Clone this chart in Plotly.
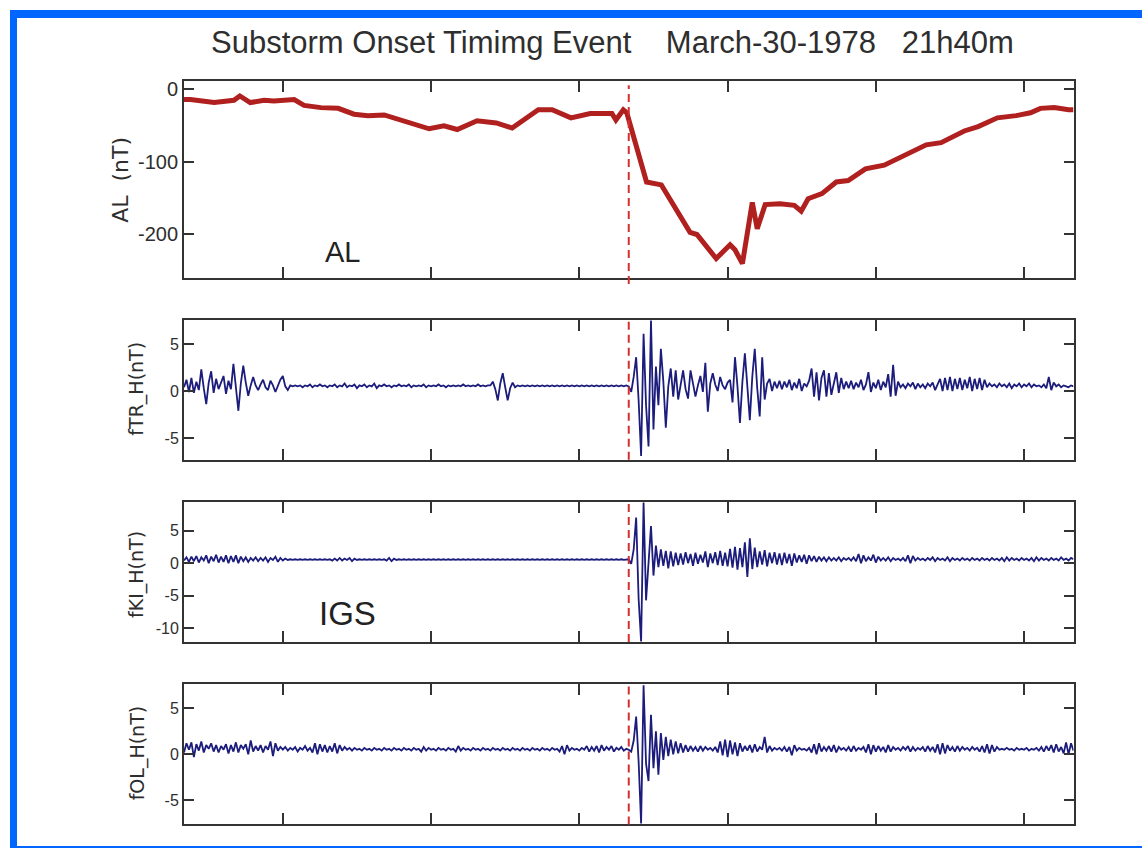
import plotly.graph_objects as go

W, H = 1142, 848

# ---------------------------------------------------------------------------
# Data
# ---------------------------------------------------------------------------
# Time is given in minutes of UT (1210 = 20:10 UT, 1390 = 23:10 UT)
onset_min = 1300          # 21:40 UT
tick_minutes = [1230, 1260, 1290, 1320, 1350, 1380]

# AL index (nT)
al_time = [1210.0, 1211.3, 1216.1, 1220.1, 1221.3, 1223.4, 1226.2, 1228.2, 1232.3, 1234.3,
           1237.7, 1241.2, 1244.4, 1247.2, 1250.5, 1253.9, 1259.6, 1262.6, 1265.3, 1269.3,
           1273.2, 1276.4, 1281.7, 1284.5, 1288.3, 1292.2, 1296.6, 1297.4, 1298.9, 1299.6,
           1303.6, 1306.6, 1312.4, 1313.8, 1317.7, 1320.5, 1321.5, 1323.0, 1325.0, 1326.0,
           1327.6, 1330.6, 1333.5, 1334.9, 1336.3, 1339.1, 1342.0, 1344.4, 1347.9, 1351.7,
           1355.5, 1360.2, 1363.2, 1367.9, 1370.7, 1374.6, 1378.4, 1381.3, 1383.3, 1386.1,
           1389.0, 1390.0]
al_nt = [-15, -15, -19, -16, -10, -19, -16, -17, -15, -23,
         -26, -27, -35, -37, -36, -43, -55, -51, -56, -44,
         -47, -54, -29, -29, -40, -34, -34, -43, -29, -33,
         -128, -132, -197, -200, -233, -214, -221, -240, -156, -192,
         -159, -158, -160, -168, -151, -144, -128, -126, -110, -105,
         -92, -77, -74, -58, -52, -40, -37, -33, -27, -26,
         -29, -29]

# Band-pass filtered H components (nT), 30 s cadence starting at 20:10 UT
t_start, t_step = 1210.0, 0.5

ftr_h = [
    0.4, 1.2, -0.1, 1.4, -0.2, 1.0, 0.1, 2.3, 0.3, -1.4, 0.9, 2.1, -0.2, 1.3, 0.2, 1.0, 1.6, -0.3, 1.1, 0.2,
    2.9, 0.4, -2.1, 0.8, 2.7, 0.9, -0.5, 0.6, 1.5, 0.6, 0.1, 0.7, 1.2, 0.4, 0.1, 1.1, 0.6, -0.1, 0.5, 1.2,
    1.6, 0.5, 0.1, 0.6, 0.5, 0.6, 0.5, 0.6, 0.4, 0.6, 0.5, 0.7, 0.4, 0.6, 0.5, 0.7, 0.5, 0.6, 0.4, 0.6,
    0.5, 0.7, 0.4, 0.6, 0.5, 0.8, 0.4, 0.6, 0.5, 0.7, 0.3, 0.6, 0.5, 0.7, 0.4, 0.6, 0.5, 0.8, 0.3, 0.6,
    0.5, 0.7, 0.5, 0.6, 0.4, 0.6, 0.5, 0.7, 0.5, 0.6, 0.5, 0.7, 0.4, 0.6, 0.5, 0.6, 0.5, 0.7, 0.4, 0.6,
    0.5, 0.6, 0.5, 0.7, 0.5, 0.6, 0.4, 0.6, 0.5, 0.6, 0.5, 0.6, 0.5, 0.7, 0.5, 0.6, 0.5, 0.6, 0.5, 0.7,
    0.5, 0.6, 0.5, 0.6, 0.6, 1.0, 0.2, -1.0, 0.8, 1.9, 0.4, -1.0, 0.3, 0.9, 0.4, 0.6, 0.5, 0.6, 0.5, 0.6,
    0.5, 0.6, 0.5, 0.6, 0.5, 0.6, 0.5, 0.6, 0.5, 0.6, 0.5, 0.6, 0.5, 0.6, 0.5, 0.6, 0.5, 0.6, 0.5, 0.6,
    0.5, 0.6, 0.5, 0.6, 0.5, 0.6, 0.5, 0.6, 0.5, 0.6, 0.5, 0.6, 0.5, 0.6, 0.5, 0.6, 0.5, 0.6, 0.5, 0.6,
    0.5, -0.1, 1.5, 3.6, -1.0, -6.9, 6.1, -1.5, -5.9, 7.5, -4.1, 2.6, -1.5, 4.5, 1.0, -3.9, 0.5, 2.4, -0.6, 2.2,
    -0.9, 0.8, 2.2, 0.2, -0.8, 2.2, 0.8, -0.6, 0.6, 1.6, -0.1, 3.0, -2.2, 0.8, 1.9, 0.7, 0.0, 1.5, 0.6, 0.2,
    0.9, 1.2, -1.2, 3.6, 0.5, -3.4, 1.0, 4.0, 0.5, -3.1, 1.5, 4.5, 0.3, -2.7, 3.6, -0.9, 0.8, 1.3, 0.0, 1.0,
    0.3, 1.1, 0.2, 1.0, 0.4, 1.2, 0.1, 0.9, 0.3, 1.3, 0.0, 0.8, 0.5, 1.1, 2.4, -0.6, 2.0, -1.0, 1.4, 2.2,
    -0.6, 1.9, -0.4, 0.8, 2.0, -0.2, 1.4, 0.2, 1.0, 0.3, 1.1, 0.2, 0.9, 0.4, 1.2, 0.1, 0.7, 2.0, -0.1, 0.9,
    0.3, 1.2, 0.1, 1.0, 0.4, 1.8, -0.6, 2.8, -0.5, 1.0, 0.4, 0.7, 0.3, 0.8, 0.5, 0.9, 0.2, 0.8, 0.4, 0.7,
    0.3, 0.8, 0.5, 0.9, 0.1, 0.7, 1.3, 0.0, 1.4, 0.1, 1.5, 0.0, 1.3, 0.2, 1.4, 0.1, 1.2, 0.3, 1.5, 0.0,
    1.3, 0.2, 1.4, 0.1, 1.2, 0.4, 0.8, 0.5, 0.7, 0.4, 0.8, 0.5, 0.7, 0.4, 0.8, 0.3, 0.7, 0.5, 0.8, 0.4,
    0.7, 0.5, 0.8, 0.4, 0.7, 0.5, 0.6, 0.4, 0.7, 0.3, 1.5, 0.1, 0.9, 0.5, 0.7, 0.4, 0.6, 0.5, 0.4, 0.6,
    0.5,
]

fki_h = [
    0.4, 0.9, 0.2, 1.0, 0.3, 1.1, 0.1, 0.9, 0.4, 1.2, 0.0, 1.0, 0.3, 1.3, 0.1, 1.0, 0.2, 1.2, 0.0, 1.1,
    0.2, 1.2, 0.0, 1.0, 0.3, 0.9, 0.2, 0.8, 0.4, 0.9, 0.3, 0.8, 0.4, 0.9, 0.2, 0.8, 0.5, 1.0, 0.2, 0.8,
    0.4, 0.7, 0.5, 0.6, 0.5, 0.6, 0.5, 0.6, 0.5, 0.6, 0.5, 0.6, 0.5, 0.6, 0.5, 0.6, 0.5, 0.6, 0.5, 0.6,
    0.4, 0.7, 0.4, 0.8, 0.4, 0.7, 0.5, 0.8, 0.3, 0.7, 0.5, 0.6, 0.5, 0.6, 0.5, 0.6, 0.5, 0.6, 0.5, 0.6,
    0.5, 0.6, 0.4, 0.8, 0.3, 0.7, 0.5, 0.6, 0.5, 0.6, 0.5, 0.6, 0.5, 0.6, 0.5, 0.6, 0.5, 0.6, 0.5, 0.6,
    0.5, 0.6, 0.5, 0.6, 0.5, 0.6, 0.5, 0.6, 0.5, 0.6, 0.5, 0.6, 0.5, 0.6, 0.5, 0.6, 0.5, 0.6, 0.5, 0.6,
    0.5, 0.6, 0.5, 0.6, 0.5, 0.6, 0.5, 0.6, 0.5, 0.6, 0.5, 0.6, 0.5, 0.6, 0.5, 0.6, 0.5, 0.6, 0.5, 0.6,
    0.5, 0.6, 0.5, 0.6, 0.5, 0.6, 0.5, 0.6, 0.5, 0.6, 0.5, 0.6, 0.5, 0.6, 0.5, 0.6, 0.5, 0.6, 0.5, 0.6,
    0.5, 0.6, 0.5, 0.6, 0.5, 0.6, 0.5, 0.6, 0.5, 0.6, 0.5, 0.6, 0.5, 0.6, 0.5, 0.6, 0.5, 0.6, 0.5, 0.6,
    0.6, -0.1, 2.1, 7.0, -5.5, -12.0, 9.3, -5.7, 1.0, 5.7, -1.9, 2.7, -0.6, 2.1, -0.4, 1.9, -0.8, 1.8, -0.5, 1.6,
    -0.3, 1.5, -0.2, 1.7, 0.0, 1.4, -0.4, 1.6, -0.1, 1.3, 0.1, 1.8, -0.6, 1.5, 0.0, 1.7, -0.3, 1.9, -0.4, 1.6,
    -0.5, 2.2, -0.7, 2.5, -1.0, 2.3, -0.6, 3.2, -2.1, 3.8, -0.9, 2.4, -0.6, 1.8, -0.2, 2.0, -0.5, 1.6, 0.0, 1.7,
    -0.2, 1.5, -0.3, 1.6, 0.0, 1.4, -0.4, 1.5, 0.1, 1.2, 0.2, 1.3, -0.1, 1.2, 0.3, 1.1, 0.2, 1.0, 0.4, 0.9,
    0.3, 0.9, 0.4, 0.8, 0.4, 0.9, 0.3, 0.8, 0.5, 0.8, 0.4, 0.9, 0.3, 1.4, 0.0, 1.2, 0.3, 0.9, 0.4, 1.3,
    0.1, 1.0, 0.4, 0.8, 0.4, 0.9, 0.3, 0.8, 0.5, 0.7, 0.4, 0.8, 0.3, 1.2, 0.0, 1.1, 0.4, 0.8, 0.5, 0.7,
    0.4, 0.8, 0.5, 0.9, 0.3, 0.8, 0.5, 0.7, 0.4, 0.9, 0.3, 0.8, 0.5, 0.7, 0.4, 0.8, 0.5, 0.7, 0.4, 0.8,
    0.5, 0.7, 0.4, 0.8, 0.5, 0.7, 0.4, 0.8, 0.5, 0.7, 0.4, 0.8, 0.3, 0.9, 0.4, 0.8, 0.5, 0.7, 0.4, 0.8,
    0.5, 0.7, 0.4, 0.8, 0.3, 0.9, 0.4, 0.8, 0.5, 0.7, 0.4, 0.8, 0.5, 0.7, 0.4, 0.9, 0.5, 0.7, 0.4, 0.8,
    0.6,
]

fol_h = [
    0.2, 1.2, 0.5, 1.3, -0.3, 1.1, 0.4, 1.4, 0.2, 1.0, 0.6, 1.2, 0.3, 1.0, 0.2, 0.9, 0.5, 1.1, 0.1, 1.0,
    0.3, 1.3, 0.2, 1.0, 0.6, 1.1, 0.0, 1.5, 0.3, 0.9, 0.4, 1.0, 0.2, 0.9, 0.5, 1.4, -0.2, 1.2, 0.4, 0.8,
    0.5, 0.8, 0.4, 0.7, 0.5, 0.8, 0.3, 0.7, 0.5, 0.9, 0.4, 0.7, 0.2, 1.2, 0.0, 1.1, 0.3, 1.0, 0.2, 0.9,
    0.3, 1.2, 0.1, 1.0, 0.4, 0.8, 0.5, 0.7, 0.4, 0.7, 0.5, 0.6, 0.4, 0.7, 0.5, 0.6, 0.4, 0.7, 0.5, 0.6,
    0.4, 0.7, 0.5, 0.6, 0.4, 0.7, 0.5, 0.6, 0.4, 0.7, 0.5, 0.6, 0.4, 0.7, 0.5, 0.6, 0.3, 0.8, 0.4, 0.7,
    0.5, 0.6, 0.4, 0.7, 0.5, 0.6, 0.4, 0.7, 0.5, 0.6, 0.3, 0.9, 0.4, 0.7, 0.5, 0.6, 0.4, 0.7, 0.5, 0.6,
    0.4, 0.7, 0.5, 0.6, 0.4, 0.7, 0.5, 0.6, 0.4, 0.7, 0.5, 0.6, 0.4, 0.7, 0.5, 0.6, 0.4, 0.7, 0.5, 0.6,
    0.4, 0.7, 0.5, 0.6, 0.4, 0.7, 0.5, 0.6, 0.4, 0.7, 0.5, 0.6, 0.3, 0.9, 0.0, 1.0, 0.4, 0.7, 0.5, 0.6,
    0.4, 0.7, 0.5, 0.9, 0.3, 0.8, 0.4, 0.9, 0.2, 1.0, 0.4, 0.8, 0.5, 0.9, 0.3, 0.7, 0.5, 0.8, 0.4, 0.6,
    0.5, 0.3, 1.5, 4.1, -0.8, -7.5, 7.5, -1.0, -2.9, 4.3, -1.5, 2.5, -2.2, 2.3, -0.6, 1.9, -0.2, 1.6, 0.0, 1.4,
    0.1, 1.2, 0.2, 1.0, 0.3, 0.9, 0.4, 0.8, 0.3, 0.9, 0.4, 0.8, 0.5, 0.7, 0.4, 0.8, 0.2, 1.4, -0.1, 1.6,
    -0.3, 1.5, 0.0, 1.3, -0.2, 1.2, 0.3, 0.9, 0.4, 1.0, 0.2, 1.1, 0.3, 0.8, 0.5, 1.9, 0.2, 0.9, 0.4, 0.7,
    0.5, 0.7, 0.4, 0.8, 0.3, 0.8, -0.1, 1.0, 0.4, 0.7, 0.5, 0.6, 0.4, 0.7, 0.2, 1.1, 0.0, 1.2, 0.3, 0.8,
    0.4, 0.9, 0.3, 1.0, 0.2, 0.8, 0.5, 0.7, 0.4, 0.8, 0.3, 0.9, 0.4, 0.7, 0.5, 0.8, 0.2, 1.1, 0.0, 1.0,
    0.3, 0.9, 0.4, 0.8, 0.2, 1.0, 0.3, 0.8, 0.5, 0.7, 0.4, 0.8, 0.5, 0.9, 0.3, 0.8, 0.4, 0.7, 0.5, 0.8,
    0.3, 0.9, 0.4, 0.8, 0.2, 1.1, 0.0, 1.2, 0.1, 1.0, 0.4, 0.8, 0.3, 0.9, 0.4, 0.8, 0.5, 0.7, 0.4, 0.8,
    0.5, 0.7, 0.3, 0.9, 0.2, 1.1, 0.1, 1.0, 0.3, 0.8, 0.5, 0.6, 0.5, 0.7, 0.5, 0.6, 0.4, 0.7, 0.5, 0.6,
    0.5, 0.7, 0.4, 0.6, 0.5, 0.7, 0.4, 0.8, 0.3, 0.9, 0.4, 1.0, 0.2, 1.1, 0.3, 0.8, 0.1, 1.3, 0.0, 1.2,
    0.4,
]

filt_time = [t_start + t_step * i for i in range(len(ftr_h))]

# Panel definitions: (y-axis title, y range, tick values)
panels = [
    ("AL\u00a0\u00a0(nT)", [-259.7, 10.9], [0, -100, -200]),
    ("fTR_H(nT)", [-7.3, 7.6], [5, 0, -5]),
    ("fKI_H(nT)", [-12.1, 9.4], [5, 0, -5, -10]),
    ("fOL_H(nT)", [-7.6, 7.6], [5, 0, -5]),
]

# ---------------------------------------------------------------------------
# Layout geometry (pixels)
# ---------------------------------------------------------------------------
plot_left, plot_right = 184.0, 1073.5
panel_px = [(78.0, 276.0), (317.7, 458.3), (500.7, 641.3), (683.7, 824.3)]


def ydom(top, bottom):
    return [1 - bottom / H, 1 - top / H]


AXIS_COLOR = "#333333"
TEXT_COLOR = "#2e2e2e"
WAVE_COLOR = "#1c1c7c"
AL_COLOR = "#b0201f"
ONSET_COLOR = "#d3312f"

fig = go.Figure()

fig.add_trace(go.Scatter(x=al_time, y=al_nt, mode="lines",
                         line=dict(color=AL_COLOR, width=5), xaxis="x", yaxis="y",
                         showlegend=False, hoverinfo="skip"))
for i, series in enumerate([ftr_h, fki_h, fol_h], start=2):
    fig.add_trace(go.Scatter(x=filt_time, y=series, mode="lines",
                             line=dict(color=WAVE_COLOR, width=1.8),
                             xaxis=f"x{i}", yaxis=f"y{i}",
                             showlegend=False, hoverinfo="skip"))

layout = dict(
    width=W, height=H,
    margin=dict(l=0, r=0, t=0, b=0),
    paper_bgcolor="white", plot_bgcolor="white",
    font=dict(family="Liberation Sans, Arial, sans-serif", color=TEXT_COLOR),
)

shapes = []
annotations = []
for k, ((title, yr, yticks), (top, bottom)) in enumerate(zip(panels, panel_px), start=1):
    sfx = "" if k == 1 else str(k)
    layout[f"xaxis{sfx}"] = dict(
        domain=[plot_left / W, plot_right / W], range=[1210, 1390],
        anchor=f"y{sfx}", tickvals=tick_minutes, showticklabels=False,
        ticks="inside", ticklen=11, tickwidth=2, tickcolor=AXIS_COLOR,
        showline=True, linecolor=AXIS_COLOR, linewidth=2, mirror="ticks",
        showgrid=False, zeroline=False, fixedrange=True,
    )
    layout[f"yaxis{sfx}"] = dict(
        domain=ydom(top, bottom), range=yr, anchor=f"x{sfx}",
        tickvals=yticks, ticktext=[str(v) for v in yticks],
        ticks="inside", ticklen=10, tickwidth=2, tickcolor=AXIS_COLOR,
        tickfont=dict(size=20 if k == 1 else 16, color=TEXT_COLOR,
                      family="Liberation Sans, Arial, sans-serif"),
        showline=True, linecolor=AXIS_COLOR, linewidth=2, mirror="ticks",
        showgrid=False, zeroline=False, fixedrange=True,
    )
    # onset marker
    y0, y1 = (-0.03, 0.977) if k == 1 else (0.0, 1.0)
    shapes.append(dict(type="line", xref=f"x{sfx}", yref=f"y{sfx} domain",
                       x0=onset_min, x1=onset_min, y0=y0, y1=y1,
                       line=dict(color=ONSET_COLOR, width=2, dash="8px,5px")))

# rotated axis titles
ytitle_pos = [(121, 177.5, 22), (137, 387, 19), (137, 574, 19), (137, 753, 19)]
for (title, _, _), (xp, yp, fs) in zip(panels, ytitle_pos):
    annotations.append(dict(text=title, xref="paper", yref="paper",
                            x=xp / W, y=1 - yp / H, xanchor="center", yanchor="middle",
                            textangle=-90, showarrow=False,
                            font=dict(size=fs, color=TEXT_COLOR, family="DejaVu Sans, sans-serif")))

# figure title and panel labels
annotations.append(dict(
    text="Substorm Onset Timimg Event\u00a0\u00a0\u00a0\u00a0March-30-1978\u00a0\u00a0\u00a021h40m",
    xref="paper", yref="paper", x=612 / W, y=1 - 40 / H, xanchor="center", yanchor="middle",
    showarrow=False, font=dict(size=31, color=TEXT_COLOR)))
annotations.append(dict(text="AL", xref="paper", yref="paper", x=342.5 / W, y=1 - 250 / H,
                        xanchor="center", yanchor="middle", showarrow=False,
                        font=dict(size=29, color="#222222")))
annotations.append(dict(text="IGS", xref="paper", yref="paper", x=347.5 / W, y=1 - 612.5 / H,
                        xanchor="center", yanchor="middle", showarrow=False,
                        font=dict(size=33, color="#222222")))

# blue page frame
BLUE = "#0066ff"
shapes += [
    dict(type="rect", xref="paper", yref="paper", x0=10 / W, x1=17 / W, y0=0, y1=1 - 7 / H,
         fillcolor=BLUE, line=dict(width=0), layer="below"),
    dict(type="rect", xref="paper", yref="paper", x0=10 / W, x1=1, y0=1 - 15 / H, y1=1 - 7 / H,
         fillcolor=BLUE, line=dict(width=0), layer="below"),
    dict(type="rect", xref="paper", yref="paper", x0=10 / W, x1=1, y0=0, y1=2 / H,
         fillcolor=BLUE, line=dict(width=0), layer="below"),
]

layout["shapes"] = shapes
layout["annotations"] = annotations
fig.update_layout(**layout)

fig.write_html("out.html", include_plotlyjs=True, config=dict(displayModeBar=False))
